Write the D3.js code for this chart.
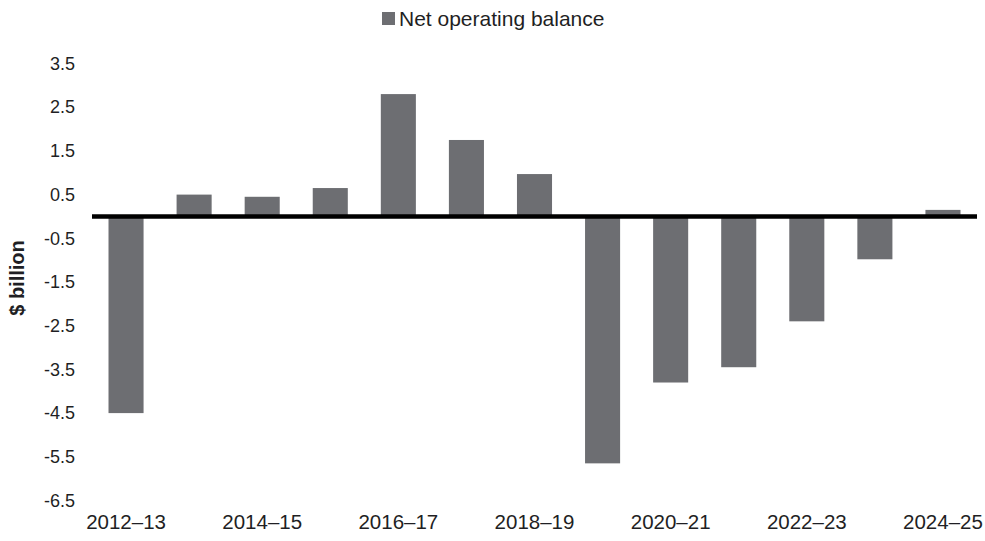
<!DOCTYPE html>
<html>
<head>
<meta charset="utf-8">
<script src="https://cdn.jsdelivr.net/npm/d3@7"></script>
<style>
  html, body { margin: 0; padding: 0; background: #ffffff; }
  svg { display: block; font-family: "Liberation Sans", Arial, sans-serif; }
</style>
</head>
<body>
<svg id="chart" width="985" height="541"></svg>
<script>
// Net operating balance by financial year ($ billion)
const years = ["2012–13", "2013–14", "2014–15", "2015–16", "2016–17", "2017–18", "2018–19",
               "2019–20", "2020–21", "2021–22", "2022–23", "2023–24", "2024–25"];
const netOperatingBalance = [-4.5, 0.5, 0.45, 0.65, 2.8, 1.75, 0.97,
                             -5.65, -3.8, -3.45, -2.4, -0.98, 0.15];
const yTicks = [3.5, 2.5, 1.5, 0.5, -0.5, -1.5, -2.5, -3.5, -4.5, -5.5, -6.5];
const xLabels = ["2012–13", "2014–15", "2016–17", "2018–19", "2020–21", "2022–23", "2024–25"];
const seriesName = "Net operating balance";
const yTitle = "$ billion";

const barColor = "#6d6e72";
const textColor = "#1f1f24";

const svg = d3.select("#chart");

const x = d3.scaleBand()
  .domain(years)
  .range([92, 977])
  .paddingInner(0.485)
  .paddingOuter(0.2425);

const y = d3.scaleLinear()
  .domain([-6.5, 3.5])
  .range([500.5, 63.5]);

// bars
svg.append("g")
  .selectAll("rect")
  .data(years.map((yr, i) => ({ yr, v: netOperatingBalance[i] })))
  .join("rect")
  .attr("x", d => x(d.yr))
  .attr("width", x.bandwidth())
  .attr("y", d => Math.min(y(0), y(d.v)))
  .attr("height", d => Math.abs(y(d.v) - y(0)))
  .attr("fill", barColor);

// zero line
svg.append("line")
  .attr("x1", x.range()[0])
  .attr("x2", x.range()[1])
  .attr("y1", y(0))
  .attr("y2", y(0))
  .attr("stroke", "#000")
  .attr("stroke-width", 4.5);

// y axis labels (plain hyphen for negatives)
const fmt = d3.formatLocale({ decimal: ".", thousands: ",", grouping: [3],
                              currency: ["$", ""], minus: "-" }).format(".1f");
const yAxis = svg.append("g")
  .attr("transform", "translate(80,0)")
  .call(d3.axisLeft(y).tickValues(yTicks).tickSize(0).tickPadding(5).tickFormat(fmt));
yAxis.select(".domain").remove();
yAxis.selectAll("text")
  .attr("font-size", 18)
  .attr("font-family", "Liberation Sans, Arial, sans-serif")
  .attr("fill", textColor);

// x axis labels (every second year)
const xAxis = svg.append("g")
  .attr("transform", "translate(0,514)")
  .call(d3.axisBottom(x).tickValues(xLabels).tickSize(0).tickPadding(0));
xAxis.select(".domain").remove();
xAxis.selectAll("text")
  .attr("font-size", 20.5)
  .attr("font-family", "Liberation Sans, Arial, sans-serif")
  .attr("fill", textColor)
  .attr("dy", "0.71em");

// y axis title
svg.append("text")
  .attr("transform", "translate(24,278) rotate(-90)")
  .attr("text-anchor", "middle")
  .attr("font-size", 20)
  .attr("font-weight", "bold")
  .attr("fill", textColor)
  .text(yTitle);

// legend
const legend = svg.append("g");
legend.append("rect")
  .attr("x", 382)
  .attr("y", 12)
  .attr("width", 13)
  .attr("height", 13)
  .attr("fill", barColor);
legend.append("text")
  .attr("x", 399)
  .attr("y", 25.5)
  .attr("font-size", 21)
  .attr("fill", textColor)
  .text(seriesName);
</script>
</body>
</html>
